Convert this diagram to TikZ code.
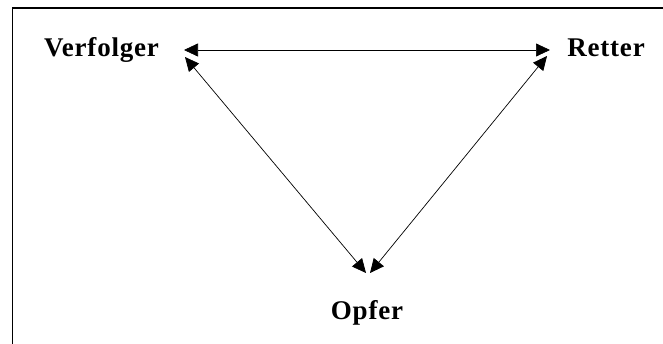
\documentclass[tikz,border=0pt]{standalone}
\usepackage{fontspec}
\setmainfont{Liberation Serif}
\newfontfamily\rollenfont[LetterSpace=3]{Liberation Serif}
\usetikzlibrary{positioning, arrows.meta}

\tikzset{
  rolle/.style={font=\rollenfont\fontsize{27}{30}\selectfont\bfseries, inner sep=0pt, anchor=base},
  beziehung/.style={{Triangle[length=14pt,width=13pt]}-{Triangle[length=14pt,width=13pt]}, line width=0.7pt},
}

\begin{document}
\begin{tikzpicture}[x=1pt, y=-1pt]
  \useasboundingbox (0,0) rectangle (663,344);
  % frame, only top and left edges visible
  \draw[line width=1.5pt] (12.5,344) -- (12.5,8) -- (663,8);

  % roles
  \node[rolle] (verfolger) at (101.5,57) {Verfolger};
  \node[rolle] (retter)    at (606,57) {Retter};
  \node[rolle] (opfer)     at (367,319) {Opfer};

  % arrow ends
  \coordinate (vfR) at (184,50);
  \coordinate (vfD) at (185,57);
  \coordinate (reL) at (550,50);
  \coordinate (reD) at (547,56);
  \coordinate (opL) at (366,273);
  \coordinate (opR) at (370,273);

  \draw[beziehung] (vfR) -- (reL);
  \draw[beziehung] (vfD) -- (opL);
  \draw[beziehung] (reD) -- (opR);
\end{tikzpicture}
\end{document}
